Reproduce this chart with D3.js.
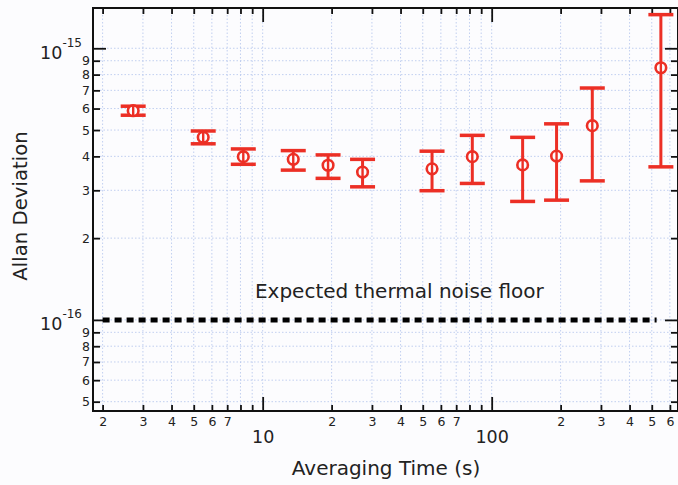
<!DOCTYPE html>
<html>
<head>
<meta charset="utf-8">
<script src="https://cdn.jsdelivr.net/npm/d3@7"></script>
<style>
  body { margin: 0; background: #fcfcfe; }
  text { font-family: "DejaVu Sans", sans-serif; fill: #222; }
</style>
</head>
<body>
<div id="chart"></div>
<script>
// averaging time (s) and Allan deviation with error bar ends
const tau   = [2.72, 5.50, 8.23, 13.6, 19.3, 27.3, 54.9, 82.3, 136.5, 192, 275, 548];
const adev  = [5.89e-16, 4.70e-16, 3.99e-16, 3.90e-16, 3.71e-16, 3.50e-16, 3.60e-16, 3.99e-16, 3.72e-16, 4.01e-16, 5.19e-16, 8.48e-16];
const upper = [6.12e-16, 4.96e-16, 4.26e-16, 4.20e-16, 4.05e-16, 3.90e-16, 4.18e-16, 4.78e-16, 4.70e-16, 5.27e-16, 7.14e-16, 1.33e-15];
const lower = [5.67e-16, 4.45e-16, 3.74e-16, 3.56e-16, 3.32e-16, 3.09e-16, 2.99e-16, 3.18e-16, 2.73e-16, 2.76e-16, 3.25e-16, 3.66e-16];

// expected thermal noise floor
const floorTau   = [2, 525];
const floorValue = 1e-16;
const floorLabel = "Expected thermal noise floor";
const floorLabelAt = [9.25, 1.205e-16];

// ticks
const xMinor = [2,3,4,5,6,7,8,9,20,30,40,50,60,70,80,90,200,300,400,500,600];
const xMinorLabels = ["2","3","4","5","6","7","","","2","3","4","5","6","7","","","2","3","4","5","6"];
const xMajor = [10, 100];
const xMajorLabels = ["10", "100"];
const yMinor = [5e-17,6e-17,7e-17,8e-17,9e-17,2e-16,3e-16,4e-16,5e-16,6e-16,7e-16,8e-16,9e-16];
const yMinorLabels = ["5","6","7","8","9","2","3","4","5","6","7","8","9"];
const yMajor = [1e-16, 1e-15];
const yMajorExp = ["-16", "-15"];

const W = 678, H = 485;
const margin = {top: 8, right: 0, bottom: 74, left: 93};
const width = W - margin.left - margin.right,
      height = H - margin.top - margin.bottom;

const svg = d3.select("#chart").append("svg")
    .attr("width", W).attr("height", H);

const g = svg.append("g")
    .attr("transform", `translate(${margin.left},${margin.top})`);

const x = d3.scaleLog().domain([1.816, 651]).range([0, width]);
const y = d3.scaleLog().domain([4.62e-17, 1.407e-15]).range([height, 0]);

const red = "#ec2f25";
const gridColor = "#b3c4ec";

// grid
g.append("g").selectAll("line")
  .data(xMinor.concat(xMajor))
  .join("line")
    .attr("x1", d => x(d)).attr("x2", d => x(d))
    .attr("y1", 0).attr("y2", height)
    .attr("stroke", gridColor).attr("stroke-width", 0.8)
    .attr("stroke-dasharray", "1.5,2");
g.append("g").selectAll("line")
  .data(yMinor.concat(yMajor))
  .join("line")
    .attr("y1", d => y(d)).attr("y2", d => y(d))
    .attr("x1", 0).attr("x2", width)
    .attr("stroke", gridColor).attr("stroke-width", 0.8)
    .attr("stroke-dasharray", "1.5,2");

// axes: ticks point inward
function styleAxis(sel) {
  sel.select(".domain").remove();
  sel.selectAll(".tick line").attr("stroke", "#111").attr("stroke-width", 1.8);
}

const bottomMinor = g.append("g")
    .attr("transform", `translate(0,${height})`)
    .call(d3.axisBottom(x).tickValues(xMinor).tickSize(-6).tickPadding(6)
      .tickFormat((d, i) => xMinorLabels[i]))
    .call(styleAxis);
bottomMinor.selectAll("text").attr("font-size", 12.5).attr("fill", "#333");

const bottomMajor = g.append("g")
    .attr("transform", `translate(0,${height})`)
    .call(d3.axisBottom(x).tickValues(xMajor).tickSize(-14).tickPadding(20)
      .tickFormat((d, i) => xMajorLabels[i]))
    .call(styleAxis);
bottomMajor.selectAll("text").attr("font-size", 17.5).attr("fill", "#222");

g.append("g")
    .call(d3.axisTop(x).tickValues(xMinor).tickSize(-6).tickFormat(""))
    .call(styleAxis);
g.append("g")
    .call(d3.axisTop(x).tickValues(xMajor).tickSize(-14).tickFormat(""))
    .call(styleAxis);

const leftMinor = g.append("g")
    .call(d3.axisLeft(y).tickValues(yMinor).tickSize(-7).tickPadding(3)
      .tickFormat((d, i) => yMinorLabels[i]))
    .call(styleAxis);
leftMinor.selectAll("text").attr("font-size", 12.5).attr("fill", "#333");

const leftMajor = g.append("g")
    .call(d3.axisLeft(y).tickValues(yMajor).tickSize(-13).tickPadding(11)
      .tickFormat(""))
    .call(styleAxis);
leftMajor.selectAll(".tick text")
    .attr("dy", null)
    .each(function(d, i) {
      const t = d3.select(this);
      t.append("tspan").attr("font-size", 17.5).attr("dy", 10).text("10");
      t.append("tspan").attr("font-size", 12).attr("dy", -12).text(yMajorExp[i]);
    });

g.append("g")
    .attr("transform", `translate(${width},0)`)
    .call(d3.axisRight(y).tickValues(yMinor).tickSize(-7).tickFormat(""))
    .call(styleAxis);
g.append("g")
    .attr("transform", `translate(${width},0)`)
    .call(d3.axisRight(y).tickValues(yMajor).tickSize(-13).tickFormat(""))
    .call(styleAxis);

// frame
g.append("rect")
    .attr("width", width).attr("height", height)
    .attr("fill", "none").attr("stroke", "#111").attr("stroke-width", 2);

// noise floor
g.append("line")
    .attr("x1", x(floorTau[0])).attr("x2", x(floorTau[1]))
    .attr("y1", y(floorValue)).attr("y2", y(floorValue))
    .attr("stroke", "#000").attr("stroke-width", 5)
    .attr("stroke-dasharray", "7,5");

g.append("text")
    .attr("x", x(floorLabelAt[0])).attr("y", y(floorLabelAt[1]))
    .attr("font-size", 20)
    .text(floorLabel);

// error bars
const pts = tau.map((t, i) => ({t, v: adev[i], hi: upper[i], lo: lower[i]}));
const cap = 12.5;
const bars = g.append("g").attr("stroke", red).attr("fill", "none");
bars.selectAll(".stem").data(pts).join("line")
    .attr("x1", d => x(d.t)).attr("x2", d => x(d.t))
    .attr("y1", d => y(d.hi)).attr("y2", d => y(d.lo))
    .attr("stroke-width", 3);
bars.selectAll(".capHi").data(pts).join("line")
    .attr("x1", d => x(d.t) - cap).attr("x2", d => x(d.t) + cap)
    .attr("y1", d => y(d.hi)).attr("y2", d => y(d.hi))
    .attr("stroke-width", 3.5);
bars.selectAll(".capLo").data(pts).join("line")
    .attr("x1", d => x(d.t) - cap).attr("x2", d => x(d.t) + cap)
    .attr("y1", d => y(d.lo)).attr("y2", d => y(d.lo))
    .attr("stroke-width", 3.5);
bars.selectAll("circle").data(pts).join("circle")
    .attr("cx", d => x(d.t)).attr("cy", d => y(d.v))
    .attr("r", 5.3).attr("stroke-width", 2.6).attr("fill", "#fcfcfe");
// stem runs through the marker like the original
bars.selectAll(".inner").data(pts).join("line")
    .attr("x1", d => x(d.t)).attr("x2", d => x(d.t))
    .attr("y1", d => y(d.v) - 5).attr("y2", d => y(d.v) + 5)
    .attr("stroke-width", 2.4);

// axis titles
svg.append("text")
    .attr("transform", "translate(27,206) rotate(-90)")
    .attr("text-anchor", "middle")
    .attr("font-size", 19.7)
    .text("Allan Deviation");

svg.append("text")
    .attr("x", 386).attr("y", 475)
    .attr("text-anchor", "middle")
    .attr("font-size", 20)
    .text("Averaging Time (s)");
</script>
</body>
</html>
